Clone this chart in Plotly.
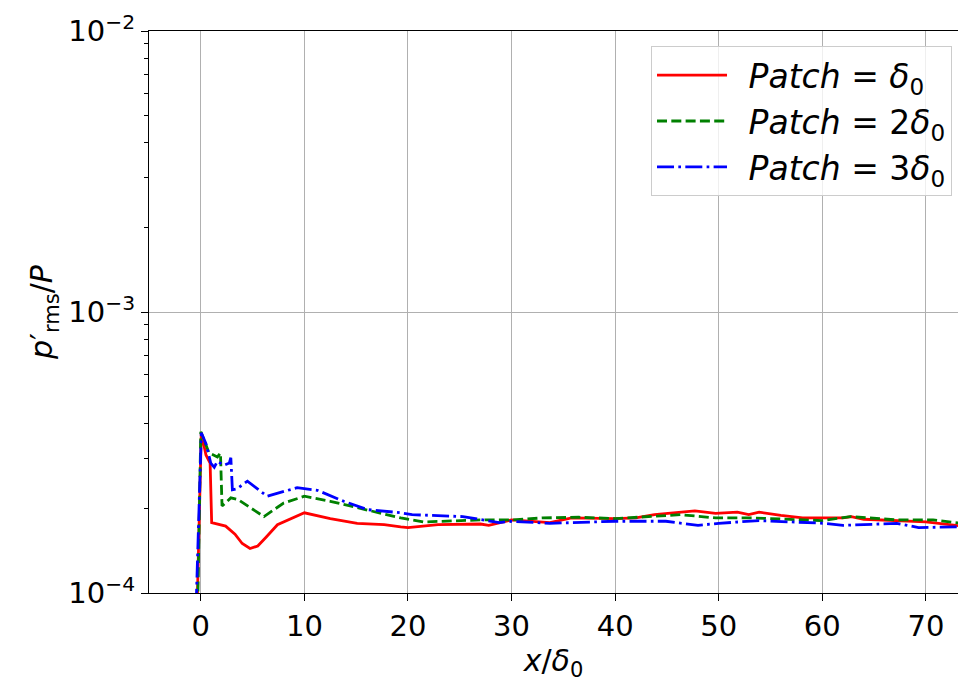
import plotly.graph_objects as go

# ---- data (x in delta0 units, y in units of 1e-4) ----
x_p1 = [-0.35, 0.05, 0.5, 0.9, 1.05, 2.4, 3.3, 4.0, 4.75, 5.5, 6.3, 7.4, 10.0, 12.5, 15.1, 17.7, 19.3,
        20.0, 22.9, 27.0, 27.8, 30.0, 33.7, 35.8, 40.0, 42.0, 43.8, 47.7, 49.7, 51.8, 52.9, 53.9,
        56.0, 58.1, 62.0, 62.8, 64.0, 70.0, 73.5]
y_p1 = [0.9, 3.72, 3.1, 2.9, 1.78, 1.73, 1.62, 1.50, 1.44, 1.47, 1.58, 1.75, 1.93, 1.84, 1.77, 1.75, 1.72,
        1.71, 1.75, 1.76, 1.74, 1.82, 1.78, 1.85, 1.84, 1.85, 1.90, 1.96, 1.92, 1.94, 1.90, 1.94,
        1.89, 1.85, 1.85, 1.87, 1.83, 1.79, 1.73]

x_p2 = [-0.3, 0.0, 0.8, 1.6, 1.9, 2.05, 2.9, 3.6, 4.8, 6.1, 8.0, 10.0, 12.5, 15.1, 17.7, 19.3, 21.5,
        27.0, 30.0, 33.0, 36.5, 40.0, 46.3, 49.7, 53.2, 56.7, 60.0, 62.7, 67.2, 70.7, 73.5]
y_p2 = [0.9, 3.75, 3.15, 3.05, 3.15, 2.04, 2.18, 2.15, 2.01, 1.87, 2.09, 2.21, 2.12, 2.01, 1.90, 1.85, 1.79,
        1.82, 1.82, 1.85, 1.86, 1.84, 1.90, 1.85, 1.85, 1.83, 1.81, 1.87, 1.82, 1.82, 1.77]

x_p3 = [-0.45, 0.05, 0.5, 0.96, 1.3, 1.6, 2.25, 2.75, 2.9, 3.05, 3.5, 4.5, 6.4, 9.3, 11.25, 13.8, 16.1,
        19.3, 20.4, 25.3, 28.8, 30.0, 33.7, 40.0, 44.9, 48.0, 50.0, 53.9, 60.2, 62.0, 67.2, 69.3, 73.5]
y_p3 = [0.9, 3.72, 3.4, 2.9, 2.8, 2.94, 2.85, 2.9, 3.03, 2.33, 2.35, 2.5, 2.21, 2.37, 2.32, 2.12, 1.98,
        1.93, 1.90, 1.87, 1.78, 1.80, 1.77, 1.80, 1.80, 1.74, 1.77, 1.81, 1.77, 1.74, 1.77, 1.71, 1.72]

names = ["<i>Patch</i> = <i>δ</i><sub>0</sub>",
         "<i>Patch</i> = 2<i>δ</i><sub>0</sub>",
         "<i>Patch</i> = 3<i>δ</i><sub>0</sub>"]

x_ticks = [0, 10, 20, 30, 40, 50, 60, 70]
y_ticks = [1e-4, 1e-3, 1e-2]
y_ticktext = ["10<sup>−4</sup>", "10<sup>−3</sup>", "10<sup>−2</sup>"]
y_minor = [m * 10.0 ** e for e in (-4, -3) for m in range(2, 10)]

FONT = "DejaVu Sans"
LW = 2.8
PAD = "\u2002"

fig = go.Figure()
series = [(x_p1, y_p1, "#ff0000", "solid"),
          (x_p2, y_p2, "#008000", "10px,4.3px"),
          (x_p3, y_p3, "#0000ff", "17px,4.3px,2.7px,4.3px")]
for i, ((xs, ys, col, dash), nm) in enumerate(zip(series, names)):
    fig.add_trace(go.Scatter(x=xs, y=[v * 1e-4 for v in ys], mode="lines", name=PAD + nm,
                             legendgroup=f"g{i}",
                             line=dict(color=col, width=LW, dash=dash)))

fig.update_layout(
    width=958, height=682,
    margin=dict(l=149, r=0, t=31, b=89),
    paper_bgcolor="white", plot_bgcolor="white",
    font=dict(family=FONT, size=29, color="black"),
    showlegend=True,
    legend=dict(x=0.9926, y=0.973, xanchor="right", yanchor="top",
                bgcolor="rgba(255,255,255,0.8)", bordercolor="#cccccc", borderwidth=1,
                font=dict(family=FONT, size=33, color="black"),
                itemwidth=70, tracegroupgap=0),
    xaxis=dict(range=[-5, 73.1], tickvals=x_ticks, ticks="outside", ticklen=7, tickwidth=1.3,
               tickcolor="black", showline=True, linecolor="black", linewidth=1.3, mirror=True,
               showgrid=True, gridcolor="#b0b0b0", gridwidth=1.3, zeroline=False,
               tickfont=dict(family=FONT, size=29),
               title=dict(text="<i>x</i>/<i>δ</i><sub>0</sub>", font=dict(family=FONT, size=30), standoff=6)),
    yaxis=dict(type="log", range=[-4, -2], tickvals=y_ticks, ticktext=y_ticktext,
               ticks="outside", ticklen=7, tickwidth=1.3, tickcolor="black",
               showline=True, linecolor="black", linewidth=1.3, mirror=False,
               showgrid=True, gridcolor="#b0b0b0", gridwidth=1.3, zeroline=False,
               minor=dict(tickvals=y_minor, ticks="outside", ticklen=4, tickwidth=1, tickcolor="black",
                          showgrid=False),
               tickfont=dict(family=FONT, size=29),
               title=dict(text="<i>p</i>′<sub>rms</sub>/<i>P</i>", font=dict(family=FONT, size=30), standoff=6)),
)

fig.write_html("out.html")
